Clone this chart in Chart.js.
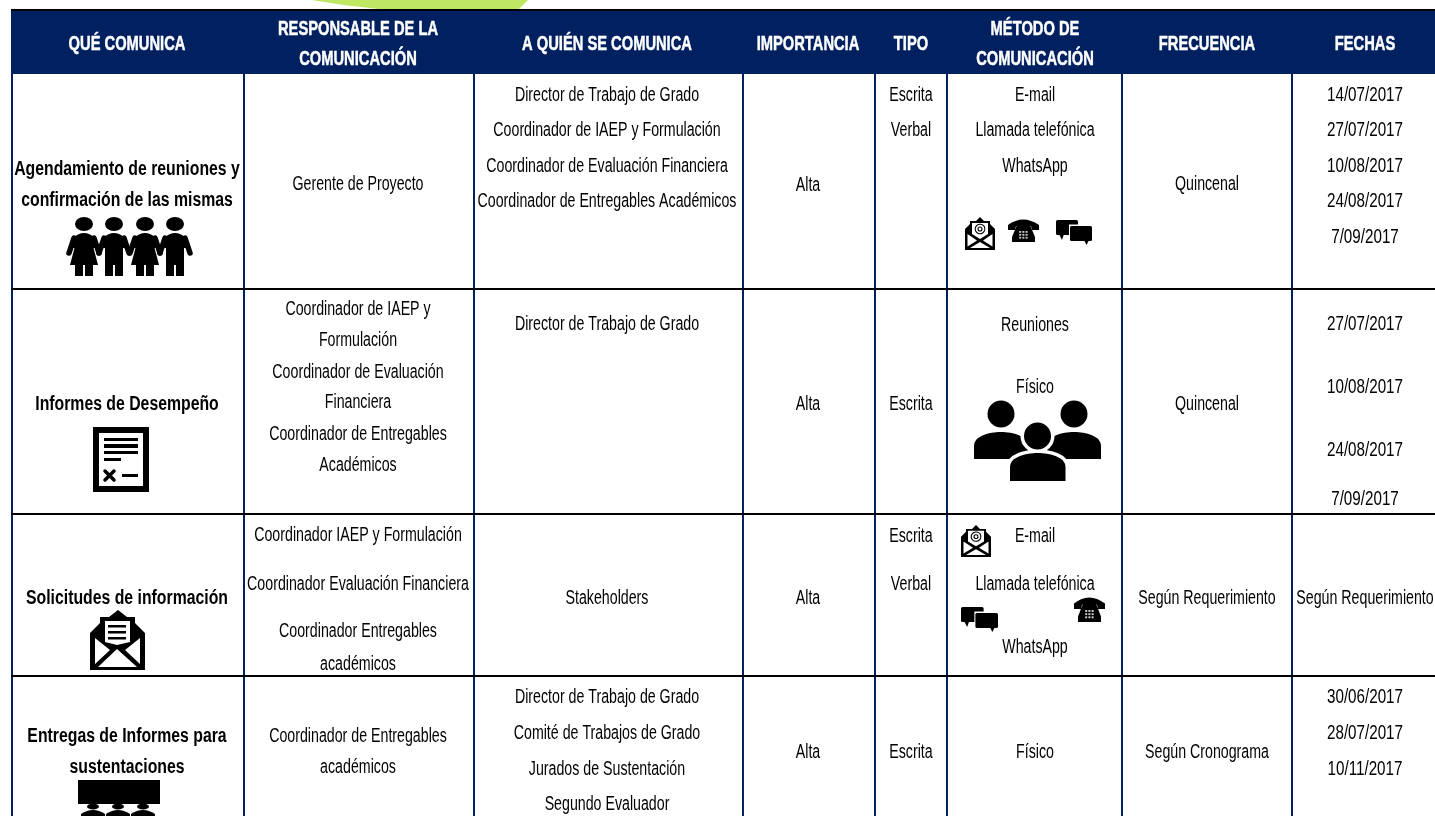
<!DOCTYPE html>
<html>
<head>
<meta charset="utf-8">
<title>Matriz de comunicaciones</title>
<script src="https://cdn.jsdelivr.net/npm/chart.js@4/dist/chart.umd.min.js"></script>
<style>
  body { margin: 0; background: #fff; overflow: hidden; }
  canvas { display: block; }
</style>
</head>
<body>
<canvas id="matriz" width="1435" height="816"></canvas>
<script>
// textos de la tabla
const encabezados = [
  ['QUÉ COMUNICA'], ['RESPONSABLE DE LA', 'COMUNICACIÓN'], ['A QUIÉN SE COMUNICA'], ['IMPORTANCIA'],
  ['TIPO'], ['MÉTODO DE', 'COMUNICACIÓN'], ['FRECUENCIA'], ['FECHAS']
];
const queComunica = [
  ['Agendamiento de reuniones y', 'confirmación de las mismas'],
  ['Informes de Desempeño'],
  ['Solicitudes de información'],
  ['Entregas de Informes para', 'sustentaciones']
];
const responsable = [
  ['Gerente de Proyecto'],
  ['Coordinador de IAEP y', 'Formulación', 'Coordinador de Evaluación', 'Financiera', 'Coordinador de Entregables', 'Académicos'],
  ['Coordinador IAEP y Formulación', 'Coordinador Evaluación Financiera', 'Coordinador Entregables', 'académicos'],
  ['Coordinador de Entregables', 'académicos']
];
const aQuien = [
  ['Director de Trabajo de Grado', 'Coordinador de IAEP y Formulación', 'Coordinador de Evaluación Financiera', 'Coordinador de Entregables Académicos'],
  ['Director de Trabajo de Grado'],
  ['Stakeholders'],
  ['Director de Trabajo de Grado', 'Comité de Trabajos de Grado', 'Jurados de Sustentación', 'Segundo Evaluador']
];
const importancia = [['Alta'], ['Alta'], ['Alta'], ['Alta']];
const tipo = [['Escrita', 'Verbal'], ['Escrita'], ['Escrita', 'Verbal'], ['Escrita']];
const metodo = [
  ['E-mail', 'Llamada telefónica', 'WhatsApp'],
  ['Reuniones', 'Físico'],
  ['E-mail', 'Llamada telefónica', 'WhatsApp'],
  ['Físico']
];
const frecuencia = [['Quincenal'], ['Quincenal'], ['Según Requerimiento'], ['Según Cronograma']];
const fechas = [
  ['14/07/2017', '27/07/2017', '10/08/2017', '24/08/2017', '7/09/2017'],
  ['27/07/2017', '10/08/2017', '24/08/2017', '7/09/2017'],
  ['Según Requerimiento'],
  ['30/06/2017', '28/07/2017', '10/11/2017']
];

// posicion de cada linea, en las unidades de los ejes
const bordesColumnas = [11.5, 244, 474, 743, 875, 947, 1122, 1292];
const bordesFilas = [289, 514, 676];
const centrosColumnas = [127, 358, 607, 808, 911, 1035, 1207, 1365];
const yEncabezados = [[44], [29, 59], [44], [44], [44], [29, 59], [44], [44]];
const yQueComunica = [[169, 200], [404], [598], [736, 767]];
const yResponsable = [[184], [309, 340, 372, 402, 434, 465], [535, 584, 631, 664], [736, 767]];
const yAQuien = [[95, 130, 166, 201], [324], [598], [697, 733, 769, 804]];
const yImportancia = [[185], [404], [598], [752]];
const yTipo = [[95, 130], [404], [536, 584], [752]];
const yMetodo = [[95, 130, 166], [325, 387], [536, 584, 647], [752]];
const yFrecuencia = [[184], [404], [598], [752]];
const yFechas = [[95, 130, 166, 201, 237], [324, 387, 450, 499], [598], [697, 733, 769]];

const AZUL = '#002060';

function puntosColumna(col, textos, posiciones) {
  const puntos = [];
  textos.forEach((fila, f) => {
    fila.forEach((texto, l) => {
      puntos.push({ x: centrosColumnas[col], y: posiciones[f][l], texto: texto });
    });
  });
  return puntos;
}

const puntosEncabezado = [];
encabezados.forEach((lineas, c) => {
  lineas.forEach((texto, l) => {
    puntosEncabezado.push({ x: centrosColumnas[c], y: yEncabezados[c][l], texto: texto });
  });
});

const puntosCuerpo = [].concat(
  puntosColumna(1, responsable, yResponsable),
  puntosColumna(2, aQuien, yAQuien),
  puntosColumna(3, importancia, yImportancia),
  puntosColumna(4, tipo, yTipo),
  puntosColumna(5, metodo, yMetodo),
  puntosColumna(6, frecuencia, yFrecuencia),
  puntosColumna(7, fechas, yFechas)
);

const estilos = [
  { font: 'bold 21px "Liberation Sans Narrow", "Liberation Sans"', color: '#ffffff', sx: 0.7, trazo: 0.5 },
  { font: 'bold 20px "Liberation Sans Narrow", "Liberation Sans"', color: '#000000', sx: 0.79, trazo: 0 },
  { font: '20px "Liberation Sans Narrow", "Liberation Sans"', color: '#000000', sx: 0.71, trazo: 0 }
];

// iconos
function sobreArroba(ctx, x, y, w, h) {
  ctx.save();
  ctx.translate(x, y);
  ctx.scale(w / 30, h / 33);
  ctx.fillStyle = '#000';
  ctx.beginPath();
  ctx.moveTo(0, 12); ctx.lineTo(5, 7); ctx.lineTo(5, 4); ctx.lineTo(11, 4); ctx.lineTo(15, 0);
  ctx.lineTo(19, 4); ctx.lineTo(25, 4); ctx.lineTo(25, 7); ctx.lineTo(30, 12);
  ctx.lineTo(30, 33); ctx.lineTo(0, 33);
  ctx.closePath();
  ctx.fill();
  ctx.fillStyle = '#fff';
  ctx.beginPath();
  ctx.moveTo(7, 6); ctx.lineTo(23, 6); ctx.lineTo(23, 17); ctx.lineTo(15, 22); ctx.lineTo(7, 17);
  ctx.closePath();
  ctx.moveTo(2.5, 17); ctx.lineTo(12, 23.5); ctx.lineTo(2.5, 29.5); ctx.closePath();
  ctx.moveTo(27.5, 17); ctx.lineTo(18, 23.5); ctx.lineTo(27.5, 29.5); ctx.closePath();
  ctx.moveTo(5, 31); ctx.lineTo(15, 25); ctx.lineTo(25, 31); ctx.closePath();
  ctx.fill();
  ctx.strokeStyle = '#000';
  ctx.lineWidth = 1.1;
  ctx.beginPath();
  ctx.arc(15, 12, 4.8, 0.2, Math.PI * 2);
  ctx.moveTo(17, 12);
  ctx.arc(15, 12, 2, 0, Math.PI * 2);
  ctx.stroke();
  ctx.restore();
}

function telefono(ctx, x, y, w, h) {
  ctx.save();
  ctx.translate(x, y);
  ctx.scale(w / 31, h / 22);
  ctx.fillStyle = '#000';
  ctx.beginPath();
  ctx.moveTo(0, 5); ctx.quadraticCurveTo(15, -6, 31, 5); ctx.lineTo(31, 10); ctx.lineTo(24, 10);
  ctx.lineTo(23, 6); ctx.lineTo(8, 6); ctx.lineTo(7, 10); ctx.lineTo(0, 10);
  ctx.closePath();
  ctx.fill();
  ctx.beginPath();
  ctx.moveTo(9, 5); ctx.lineTo(22, 5); ctx.lineTo(27, 17); ctx.lineTo(27, 22); ctx.lineTo(4, 22); ctx.lineTo(4, 17);
  ctx.closePath();
  ctx.fill();
  ctx.fillStyle = '#ccc';
  for (let i = 0; i < 3; i++) {
    for (let j = 0; j < 3; j++) {
      ctx.fillRect(11.2 + i * 3.2, 11 + j * 2.9, 2, 1.8);
    }
  }
  ctx.restore();
}

function charla(ctx, x, y, w, h) {
  ctx.save();
  ctx.translate(x, y);
  ctx.scale(w / 36, h / 25);
  ctx.fillStyle = '#000';
  ctx.beginPath();
  ctx.roundRect(0, 0, 22, 15, 1.5);
  ctx.fill();
  ctx.beginPath();
  ctx.moveTo(3, 14); ctx.lineTo(6, 20); ctx.lineTo(8, 14);
  ctx.closePath();
  ctx.fill();
  ctx.fillStyle = '#fff';
  ctx.fillRect(13, 4.5, 24, 18);
  ctx.fillStyle = '#000';
  ctx.beginPath();
  ctx.roundRect(14, 6, 22, 15, 1.5);
  ctx.fill();
  ctx.beginPath();
  ctx.moveTo(28, 20); ctx.lineTo(30.5, 25); ctx.lineTo(33, 20);
  ctx.closePath();
  ctx.fill();
  ctx.restore();
}

function personas(ctx) {
  [84, 114, 145, 175].forEach((cx, i) => {
    ctx.fillStyle = '#000';
    ctx.beginPath();
    ctx.ellipse(cx, 224, 9, 7, 0, 0, Math.PI * 2);
    ctx.fill();
    ctx.beginPath();
    ctx.moveTo(cx - 11, 238); ctx.quadraticCurveTo(cx, 228, cx + 11, 238);
    ctx.lineTo(cx + 12, 248); ctx.lineTo(cx - 12, 248);
    ctx.closePath();
    ctx.fill();
    ctx.strokeStyle = '#000';
    ctx.lineWidth = 5.5;
    ctx.lineCap = 'round';
    ctx.beginPath();
    ctx.moveTo(cx - 10, 238); ctx.lineTo(cx - 15, 253);
    ctx.moveTo(cx + 10, 238); ctx.lineTo(cx + 15, 253);
    ctx.stroke();
    if (i % 2 === 0) {
      ctx.beginPath();
      ctx.moveTo(cx - 9, 246); ctx.lineTo(cx + 9, 246); ctx.lineTo(cx + 14, 265); ctx.lineTo(cx - 14, 265);
      ctx.closePath();
      ctx.fill();
      ctx.fillRect(cx - 9, 265, 8, 11);
      ctx.fillRect(cx + 1, 265, 8, 11);
    } else {
      ctx.fillRect(cx - 9, 245, 18, 20);
      ctx.fillRect(cx - 9, 265, 8, 11);
      ctx.fillRect(cx + 1, 265, 8, 11);
    }
  });
}

function documento(ctx) {
  ctx.fillStyle = '#000';
  ctx.fillRect(93, 427, 56, 65);
  ctx.fillStyle = '#fff';
  ctx.fillRect(99, 433, 44, 53);
  ctx.fillStyle = '#000';
  ctx.fillRect(104, 438, 34, 3);
  ctx.fillRect(104, 444, 34, 4);
  ctx.fillRect(104, 451, 34, 3);
  ctx.fillRect(104, 458, 17, 3);
  ctx.fillRect(122, 474, 16, 3);
  ctx.strokeStyle = '#000';
  ctx.lineWidth = 3.5;
  ctx.beginPath();
  ctx.moveTo(105, 471); ctx.lineTo(114, 480);
  ctx.moveTo(114, 471); ctx.lineTo(105, 480);
  ctx.stroke();
}

function cuerpoPersona(ctx, x0, x1, yTop, yBase) {
  const m = (x0 + x1) / 2;
  ctx.beginPath();
  ctx.moveTo(x0, yBase);
  ctx.lineTo(x0, yTop + 14);
  ctx.bezierCurveTo(x0, yTop + 4, m - 12, yTop, m, yTop);
  ctx.bezierCurveTo(m + 12, yTop, x1, yTop + 4, x1, yTop + 14);
  ctx.lineTo(x1, yBase);
  ctx.closePath();
}

function grupo(ctx) {
  ctx.fillStyle = '#000';
  [[1001, 414], [1074, 414]].forEach(c => {
    ctx.beginPath();
    ctx.arc(c[0], c[1], 13.5, 0, Math.PI * 2);
    ctx.fill();
  });
  cuerpoPersona(ctx, 974, 1028, 432, 459);
  ctx.fill();
  cuerpoPersona(ctx, 1047, 1101, 432, 459);
  ctx.fill();
  ctx.strokeStyle = '#fff';
  ctx.lineWidth = 7;
  ctx.beginPath();
  ctx.arc(1037.5, 436, 13.5, 0, Math.PI * 2);
  ctx.stroke();
  cuerpoPersona(ctx, 1010, 1065.5, 453, 481);
  ctx.stroke();
  ctx.fill();
  ctx.beginPath();
  ctx.arc(1037.5, 436, 13.5, 0, Math.PI * 2);
  ctx.fill();
}

function sobreDocumento(ctx) {
  ctx.fillStyle = '#000';
  ctx.beginPath();
  ctx.moveTo(90, 633); ctx.lineTo(100, 623); ctx.lineTo(100, 617); ctx.lineTo(109, 617); ctx.lineTo(118, 610);
  ctx.lineTo(127, 617); ctx.lineTo(135, 617); ctx.lineTo(135, 623); ctx.lineTo(145, 633);
  ctx.lineTo(145, 670); ctx.lineTo(90, 670);
  ctx.closePath();
  ctx.fill();
  ctx.fillStyle = '#fff';
  ctx.beginPath();
  ctx.moveTo(105, 621); ctx.lineTo(130, 621); ctx.lineTo(130, 642); ctx.lineTo(117, 645); ctx.lineTo(105, 642);
  ctx.closePath();
  ctx.moveTo(95, 638); ctx.lineTo(110, 650); ctx.lineTo(95, 664);
  ctx.closePath();
  ctx.moveTo(140, 638); ctx.lineTo(125, 650); ctx.lineTo(140, 664);
  ctx.closePath();
  ctx.moveTo(98, 667); ctx.lineTo(117, 649); ctx.lineTo(137, 667);
  ctx.closePath();
  ctx.fill();
  ctx.fillStyle = '#000';
  ctx.fillRect(108, 625, 18, 2.5);
  ctx.fillRect(108, 631, 18, 2.5);
  ctx.fillRect(108, 637, 18, 2.5);
}

function auditorio(ctx) {
  ctx.fillStyle = '#000';
  ctx.fillRect(78, 780, 82, 24);
  [93, 118, 143].forEach(cx => {
    ctx.beginPath();
    ctx.ellipse(cx, 806.5, 6, 3, 0, 0, Math.PI * 2);
    ctx.fill();
    ctx.beginPath();
    ctx.moveTo(cx - 12, 814);
    ctx.quadraticCurveTo(cx, 806, cx + 12, 814);
    ctx.lineTo(cx + 12, 816);
    ctx.lineTo(cx - 12, 816);
    ctx.closePath();
    ctx.fill();
  });
}

const pluginTabla = {
  id: 'tabla',
  beforeDatasetsDraw(chart) {
    const ctx = chart.ctx;
    const x = chart.scales.x;
    const y = chart.scales.y;
    ctx.save();
    ctx.fillStyle = '#BFE763';
    ctx.beginPath();
    ctx.moveTo(312, 0);
    ctx.quadraticCurveTo(345, 6, 378, 9);
    ctx.lineTo(519, 9);
    ctx.lineTo(528, 0);
    ctx.closePath();
    ctx.fill();
    ctx.fillStyle = '#000';
    ctx.fillRect(x.getPixelForValue(11), 9, 1435 - 11, 2);
    ctx.fillStyle = AZUL;
    ctx.fillRect(x.getPixelForValue(11), y.getPixelForValue(11), 1435 - 11, y.getPixelForValue(74) - y.getPixelForValue(11));
    ctx.restore();
  },
  afterDatasetsDraw(chart) {
    const ctx = chart.ctx;
    chart.data.datasets.forEach((ds, i) => {
      const est = estilos[i];
      const meta = chart.getDatasetMeta(i);
      ctx.save();
      ctx.font = est.font;
      ctx.fillStyle = est.color;
      ctx.strokeStyle = est.color;
      ctx.lineWidth = est.trazo;
      ctx.textAlign = 'center';
      ctx.textBaseline = 'middle';
      meta.data.forEach((p, k) => {
        const texto = ds.data[k].texto;
        // los digitos de las fechas son algo mas anchos
        const sx = /^\d/.test(texto) ? est.sx * 1.07 : est.sx;
        ctx.save();
        ctx.translate(p.x, p.y);
        ctx.scale(sx, 1);
        ctx.fillText(texto, 0, 0);
        if (est.trazo) ctx.strokeText(texto, 0, 0);
        ctx.restore();
      });
      ctx.restore();
    });
    ctx.save();
    personas(ctx);
    documento(ctx);
    grupo(ctx);
    sobreDocumento(ctx);
    auditorio(ctx);
    sobreArroba(ctx, 965, 217, 30, 33);
    telefono(ctx, 1008, 220, 31, 22);
    charla(ctx, 1056, 220, 36, 25);
    sobreArroba(ctx, 961, 525, 30, 32);
    telefono(ctx, 1074, 598, 31, 24);
    charla(ctx, 961, 607, 37, 25);
    ctx.restore();
  }
};

new Chart(document.getElementById('matriz'), {
  type: 'scatter',
  data: {
    datasets: [
      { label: 'Encabezados', data: puntosEncabezado, pointRadius: 0 },
      { label: 'Qué comunica', data: puntosColumna(0, queComunica, yQueComunica), pointRadius: 0 },
      { label: 'Cuerpo', data: puntosCuerpo, pointRadius: 0 }
    ]
  },
  options: {
    responsive: false,
    animation: false,
    events: [],
    layout: { padding: { top: 10, left: 11, right: 0, bottom: 0 } },
    plugins: { legend: { display: false }, tooltip: { enabled: false }, title: { display: false } },
    scales: {
      x: {
        type: 'linear',
        min: 11,
        max: 1435,
        afterBuildTicks: s => { s.ticks = bordesColumnas.map(v => ({ value: v })); },
        grid: { color: AZUL, lineWidth: 2, drawTicks: false },
        border: { display: false },
        ticks: { display: false }
      },
      y: {
        type: 'linear',
        reverse: true,
        min: 10,
        max: 816,
        afterBuildTicks: s => { s.ticks = bordesFilas.map(v => ({ value: v })); },
        grid: { color: '#000000', lineWidth: 2, drawTicks: false },
        border: { display: false },
        ticks: { display: false }
      }
    }
  },
  plugins: [pluginTabla]
});
</script>
</body>
</html>
